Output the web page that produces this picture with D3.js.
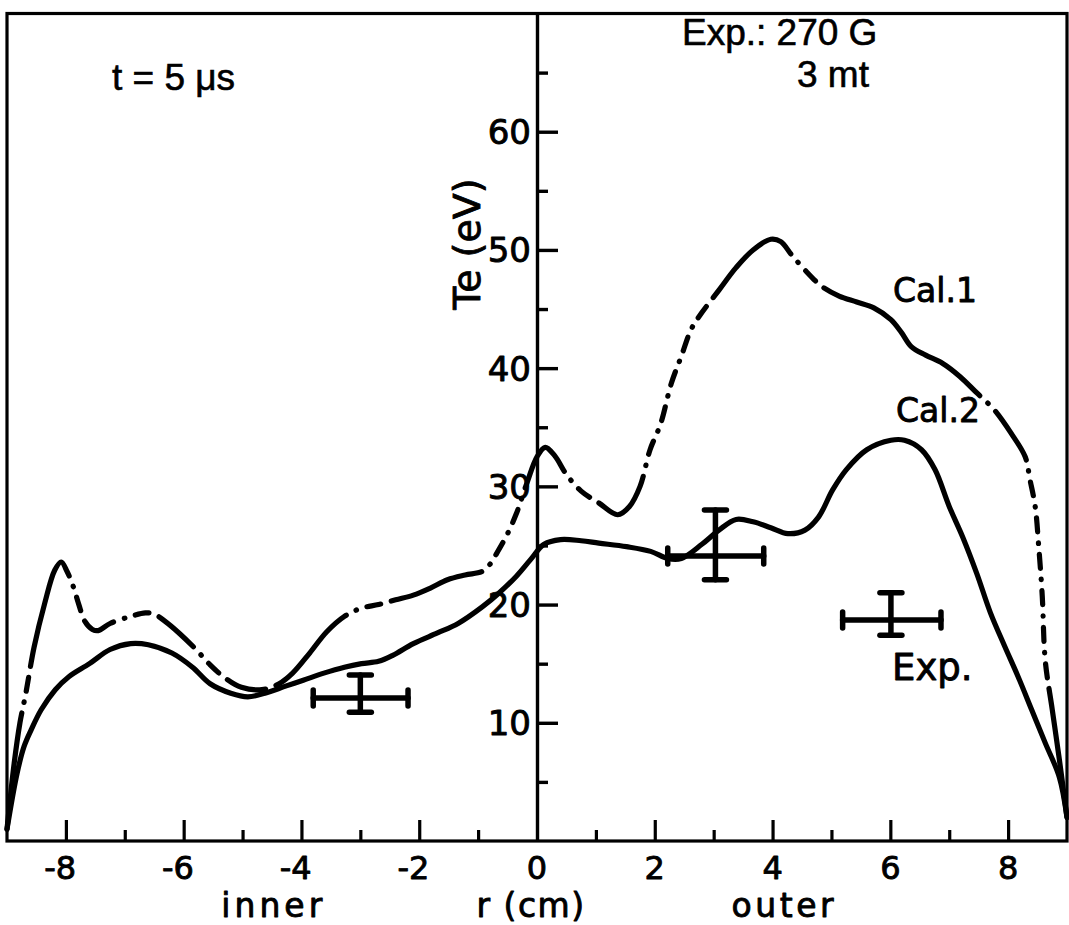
<!DOCTYPE html>
<html>
<head>
<meta charset="utf-8">
<script src="https://cdn.jsdelivr.net/npm/d3@7/dist/d3.min.js"></script>
<style>
  html, body { margin: 0; padding: 0; background: #fff; }
  svg { display: block; }
</style>
</head>
<body>
<svg id="chart" width="1069" height="925"></svg>
<script>
// Electron temperature profiles Te(r) at t = 5 µs

// Calculation 1 (r in cm, Te in eV)
const cal1R = [-9.0, -8.88, -8.78, -8.68, -8.54, -8.36, -8.19, -8.08, -7.98, -7.88, -7.78, -7.68,
  -7.55, -7.45, -7.25, -6.9, -6.65, -6.5, -6.32, -6.08, -5.79, -5.55, -5.3, -5.02, -4.67, -4.38,
  -4.15, -3.86, -3.57, -3.27, -2.98, -2.69, -2.4, -2.1, -1.81, -1.52, -1.22, -0.93, -0.8, -0.7,
  -0.52, -0.35, -0.17, 0.0, 0.14, 0.3, 0.5, 0.75, 1.05, 1.37, 1.57, 1.75, 1.92, 2.1, 2.28, 2.45,
  2.62, 2.8, 3.09, 3.38, 3.67, 3.97, 4.14, 4.32, 4.55, 4.84, 5.13, 5.43, 5.72, 6.01, 6.19, 6.36,
  6.6, 6.89, 7.18, 7.47, 7.76, 8.05, 8.29, 8.37, 8.46, 8.52, 8.58, 8.63, 8.75, 8.87, 9.0];
const cal1Te = [1.0, 6.5, 10.0, 12.5, 16.4, 20.1, 22.9, 23.6, 22.8, 21.6, 20.0, 18.6,
  17.9, 17.8, 18.4, 19.0, 19.3, 19.2, 18.6, 17.6, 16.2, 14.9, 13.8, 13.0, 12.8, 13.3,
  14.2, 15.9, 17.7, 19.0, 19.7, 20.0, 20.4, 20.8, 21.4, 22.1, 22.5, 22.8, 23.4, 24.2,
  25.8, 27.7, 30.3, 32.5, 33.3, 32.6, 31.0, 29.6, 28.6, 27.6, 28.3, 30.0, 33.1, 35.3, 38.7, 41.0,
  43.3, 44.7, 46.6, 48.5, 50.0, 50.9, 50.7, 49.6, 48.3, 46.9, 46.1, 45.6, 45.1, 44.1, 43.0, 41.8,
  41.1, 40.4, 39.3, 37.9, 36.5, 34.5, 32.5, 30.6, 28.3, 24.9, 20.7, 15.3, 11.1, 6.9, 2.0];

// r-ranges where the Cal.1 trace is broken (dash-dot)
const cal1Broken = [[-8.75, -8.6], [-7.95, -7.7], [-7.2, -6.7], [-5.85, -5.35], [-4.62, -4.35],
  [-3.25, -2.75], [-0.95, -0.2], [0.45, 1.1], [1.8, 2.95], [4.3, 4.75], [7.5, 7.8], [8.3, 8.66]];

// Calculation 2
const cal2R = [-9.0, -8.83, -8.71, -8.59, -8.42, -8.18, -7.95, -7.6, -7.25, -6.9, -6.6, -6.2,
  -5.85, -5.55, -5.2, -4.91, -4.62, -4.27, -3.97, -3.62, -3.27, -2.98, -2.69, -2.45, -2.1, -1.69,
  -1.34, -0.93, -0.64, -0.35, -0.11, 0.12, 0.4, 0.75, 1.05, 1.52, 1.93, 2.22, 2.45, 2.8, 3.09,
  3.38, 3.67, 3.97, 4.26, 4.55, 4.78, 5.02, 5.25, 5.6, 6.01, 6.24, 6.53, 6.76, 7.0, 7.23, 7.47,
  7.7, 7.94, 8.17, 8.4, 8.63, 8.87, 9.0];
const cal2Te = [1.0, 5.7, 8.0, 9.4, 11.1, 12.8, 13.9, 15.0, 16.2, 16.7, 16.6, 15.9,
  14.7, 13.3, 12.5, 12.2, 12.5, 13.1, 13.6, 14.2, 14.7, 15.0, 15.2, 15.7, 16.7, 17.6,
  18.4, 19.8, 21.0, 22.4, 23.8, 25.1, 25.5, 25.4, 25.2, 24.9, 24.5, 23.9, 23.9, 25.1, 26.3,
  27.2, 27.0, 26.5, 26.0, 26.3, 27.4, 29.7, 31.4, 33.1, 33.9, 33.9, 33.1, 31.4, 28.3, 25.7, 22.6,
  19.3, 16.5, 13.9, 11.1, 8.3, 5.4, 2.0];

// Measured points with error bars
const expR    = [-3.0, 3.03, 6.01];
const expRLo  = [-3.8, 2.22, 5.19];
const expRHi  = [-2.19, 3.85, 6.86];
const expTe   = [12.1, 24.1, 18.7];
const expTeLo = [10.9, 22.1, 17.4];
const expTeHi = [14.05, 28.0, 21.0];

// Axis ticks and labels
const xMajor = [-8, -6, -4, -2, 2, 4, 6, 8];
const xMinor = [-7, -5, -3, -1, 1, 3, 5, 7];
const xLabels = [-8, -6, -4, -2, 0, 2, 4, 6, 8];
const yMajor = [10, 20, 30, 40, 50, 60];
const yMinor = [5, 15, 25, 35, 45, 55, 65];

const svg = d3.select("#chart");
const x = d3.scaleLinear().domain([-9, 9]).range([7, 1067]);
const y = d3.scaleLinear().domain([0, 70]).range([841, 13.5]);

const ink = "#000";
const tickFont = "'DejaVu Sans', sans-serif";
const textFont = "'Liberation Sans Narrow', 'Liberation Sans', sans-serif";

// Slightly heavier lettering
const heavy = sel => sel.attr("stroke", ink).attr("stroke-width", 0.9).attr("stroke-linejoin", "round");

svg.append("rect").attr("width", 1069).attr("height", 925).attr("fill", "#fff");

// Frame
svg.append("rect")
  .attr("x", x(-9)).attr("y", y(70))
  .attr("width", x(9) - x(-9)).attr("height", y(0) - y(70))
  .attr("fill", "none").attr("stroke", ink).attr("stroke-width", 3.2);

// Bottom axis ticks (pointing up into the plot)
const xAxisMajor = d3.axisTop(x).tickValues(xMajor).tickSize(21).tickSizeOuter(0).tickFormat("");
const xAxisMinor = d3.axisTop(x).tickValues(xMinor).tickSize(11).tickSizeOuter(0).tickFormat("");
[xAxisMajor, xAxisMinor].forEach(ax => {
  const g = svg.append("g").attr("transform", `translate(0,${y(0)})`).call(ax);
  g.select(".domain").remove();
  g.selectAll(".tick line").attr("stroke", ink).attr("stroke-width", 3.2);
});

// Vertical axis at r = 0 with ticks pointing right
const yAxisMajor = d3.axisRight(y).tickValues(yMajor).tickSize(21).tickSizeOuter(0).tickFormat("");
const yAxisMinor = d3.axisRight(y).tickValues(yMinor).tickSize(11).tickSizeOuter(0).tickFormat("");
const gy = svg.append("g").attr("transform", `translate(${x(0)},0)`).call(yAxisMajor);
gy.select(".domain").attr("stroke", ink).attr("stroke-width", 3.4);
gy.selectAll(".tick line").attr("stroke", ink).attr("stroke-width", 3.4);
const gy2 = svg.append("g").attr("transform", `translate(${x(0)},0)`).call(yAxisMinor);
gy2.select(".domain").remove();
gy2.selectAll(".tick line").attr("stroke", ink).attr("stroke-width", 3.4);

// Y tick labels, left of the axis
svg.append("g").selectAll("text").data(yMajor).join("text")
  .attr("x", x(0) - 6).attr("y", d => y(d) + 12.5)
  .attr("text-anchor", "end")
  .attr("font-family", tickFont).attr("font-size", 34).attr("fill", ink)
  .call(heavy)
  .text(d => d);

// X tick labels: the digit sits over its tick, the minus hangs to the left
const xLabelSize = 32;
const digitHalf = 0.636 * xLabelSize / 2;
svg.append("g").selectAll("text").data(xLabels).join("text")
  .attr("x", d => d < 0 ? x(d) + digitHalf : x(d))
  .attr("y", 879)
  .attr("text-anchor", d => d < 0 ? "end" : "middle")
  .attr("font-family", tickFont).attr("font-size", xLabelSize).attr("fill", ink)
  .call(heavy)
  .text(d => d < 0 ? "-" + Math.abs(d) : d);

// Axis titles
const axisTitles = [
  { t: "inner", r: -4.47, ls: 4 },
  { t: "r (cm)", r: -0.1, ls: 1.5 },
  { t: "outer", r: 4.2, ls: 3.5 }
];
svg.append("g").selectAll("text").data(axisTitles).join("text")
  .attr("x", d => x(d.r)).attr("y", 917)
  .attr("text-anchor", "middle")
  .attr("letter-spacing", d => d.ls)
  .attr("font-family", tickFont).attr("font-size", 33).attr("fill", ink)
  .call(heavy)
  .text(d => d.t);

svg.append("text")
  .attr("transform", "translate(480,244) rotate(-90)")
  .attr("text-anchor", "middle")
  .attr("font-family", tickFont).attr("font-size", 38).attr("fill", ink)
  .call(heavy)
  .text("Te (eV)");

// Curves
const line = d3.line()
  .x(d => x(d[0])).y(d => y(d[1]))
  .curve(d3.curveCatmullRom.alpha(0.5));

const cal1 = cal1R.map((r, i) => [r, cal1Te[i]]);
const cal2 = cal2R.map((r, i) => [r, cal2Te[i]]);

svg.append("path").attr("d", line(cal2))
  .attr("fill", "none").attr("stroke", ink).attr("stroke-width", 5.2)
  .attr("stroke-linecap", "round").attr("stroke-linejoin", "round");

const cal1Path = svg.append("path").attr("d", line(cal1))
  .attr("fill", "none").attr("stroke", ink).attr("stroke-width", 5.2)
  .attr("stroke-linecap", "round").attr("stroke-linejoin", "round");

// Dash array: solid everywhere except the broken r-ranges, which get dash-dot
(function applyDashes(node) {
  const L = node.getTotalLength();
  const samples = [];
  for (let l = 0; l <= L; l += 1) samples.push([l, node.getPointAtLength(l).x]);
  const lenAt = px => {
    for (const s of samples) if (s[1] >= px) return s[0];
    return L;
  };
  const GAP = 11, DOT = 0.5, DASH = 14;
  const arr = [];
  let pos = 0;
  cal1Broken.forEach(([a, b]) => {
    const la = lenAt(x(a)), lb = lenAt(x(b));
    arr.push(Math.max(la - pos, 0.5), GAP);
    let p = la + GAP, k = 0;
    while (p < lb - 6) {
      const d = k % 2 === 0 ? DOT : DASH;
      arr.push(d, GAP);
      p += d + GAP;
      k++;
    }
    pos = p;
  });
  arr.push(L - pos + 20, 0);
  node.setAttribute("stroke-dasharray", arr.map(v => v.toFixed(2)).join(" "));
})(cal1Path.node());

// Error bars
const capV = 11, capH = 8;
const eb = svg.append("g").attr("stroke", ink).attr("stroke-width", 5.5)
  .attr("stroke-linecap", "round").attr("fill", "none");
expR.forEach((r, i) => {
  const g = eb.append("g");
  g.append("line").attr("x1", x(expRLo[i])).attr("x2", x(expRHi[i]))
    .attr("y1", y(expTe[i])).attr("y2", y(expTe[i]));
  g.append("line").attr("x1", x(r)).attr("x2", x(r))
    .attr("y1", y(expTeLo[i])).attr("y2", y(expTeHi[i]));
  [expTeLo[i], expTeHi[i]].forEach(v => g.append("line")
    .attr("x1", x(r) - capV).attr("x2", x(r) + capV).attr("y1", y(v)).attr("y2", y(v)));
  [expRLo[i], expRHi[i]].forEach(v => g.append("line")
    .attr("x1", x(v)).attr("x2", x(v)).attr("y1", y(expTe[i]) - capH).attr("y2", y(expTe[i]) + capH));
});

// Curve and data labels
const curveLabels = [
  { t: "Cal.1", x: 893, y: 302, size: 33 },
  { t: "Cal.2", x: 896, y: 422, size: 33 },
  { t: "Exp.", x: 892, y: 680, size: 37 }
];
svg.append("g").selectAll("text").data(curveLabels).join("text")
  .attr("x", d => d.x).attr("y", d => d.y)
  .attr("font-family", tickFont).attr("font-size", d => d.size).attr("fill", ink)
  .call(heavy)
  .text(d => d.t);

// Run conditions
const notes = [
  { t: "t = 5 μs", x: 112, y: 90 },
  { t: "Exp.: 270 G", x: 682, y: 45 },
  { t: "3 mt", x: 797, y: 87 }
];
svg.append("g").selectAll("text").data(notes).join("text")
  .attr("x", d => d.x).attr("y", d => d.y)
  .attr("font-family", textFont).attr("font-size", 37).attr("fill", ink)
  .attr("stroke", ink).attr("stroke-width", 0.6)
  .text(d => d.t);
</script>
</body>
</html>
